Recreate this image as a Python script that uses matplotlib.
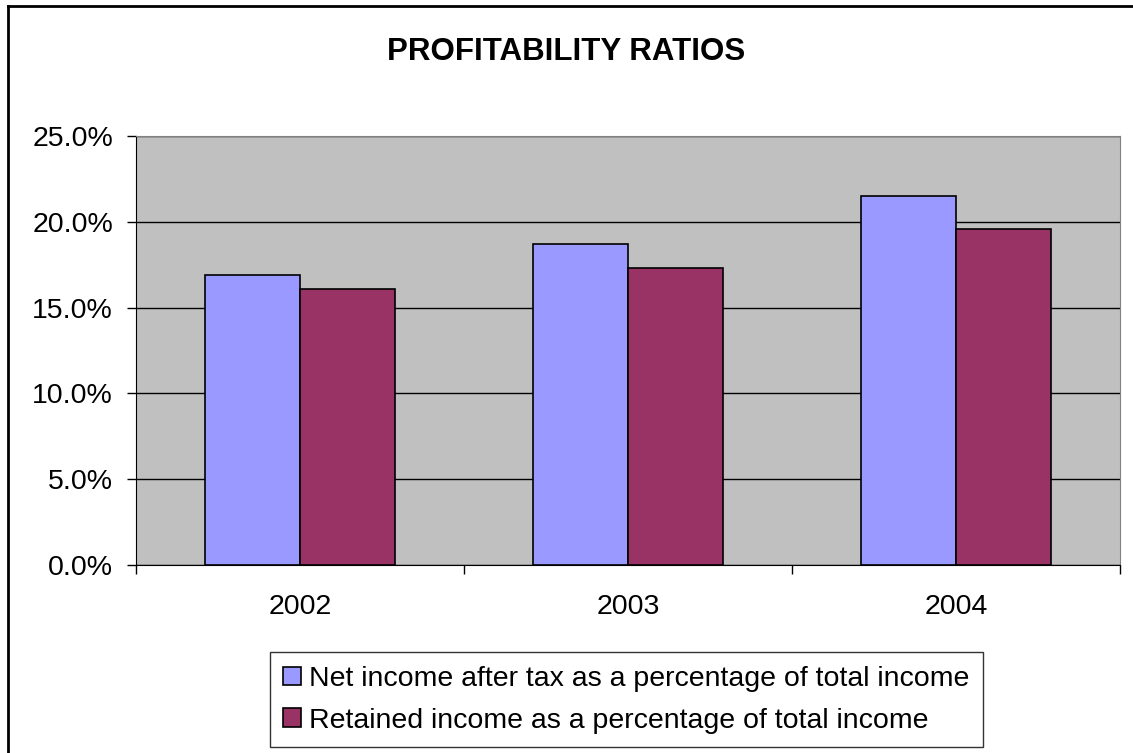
import numpy as np
import matplotlib.pyplot as plt
from matplotlib.lines import Line2D
from matplotlib.ticker import FuncFormatter

plt.rcParams['font.family'] = ['Liberation Sans', 'DejaVu Sans']

# data
years = ['2002', '2003', '2004']
net_income = [16.9, 18.7, 21.5]
retained = [16.1, 17.3, 19.6]
labels = ['Net income after tax as a percentage of total income',
          'Retained income as a percentage of total income']

fig = plt.figure(figsize=(11.33, 7.53), dpi=100)
ax = fig.add_axes([0.120, 0.2497, 0.8685, 0.5697])
ax.set_facecolor('#C0C0C0')

x = np.arange(len(years))
w = 0.29
b1 = ax.bar(x - w / 2, net_income, w, color='#9999FF', edgecolor='black', linewidth=1.2, zorder=3)
b2 = ax.bar(x + w / 2, retained, w, color='#993366', edgecolor='black', linewidth=1.2, zorder=3)

ax.set_ylim(0, 25)
ax.set_xlim(-0.5, 2.5)
ax.set_yticks(np.arange(0, 25.1, 5))
ax.yaxis.set_major_formatter(FuncFormatter(lambda v, p: '%.1f%%' % v))
ax.grid(axis='y', color='black', linewidth=1, zorder=1)
ax.tick_params(axis='y', labelsize=20.5, length=6.5, width=1, pad=10)

ax.set_xticks(x)
ax.set_xticklabels(years)
ax.set_xticks(np.arange(-0.5, 3, 1), minor=True)
ax.tick_params(axis='x', which='major', length=0, labelsize=20.5, pad=21)
ax.tick_params(axis='x', which='minor', length=6.5, width=1)

for s in ['top', 'right']:
    ax.spines[s].set_color('#808080')
ax.spines['left'].set_color('black')
ax.spines['bottom'].set_color('black')

fig.text(0.5, 1 - 52 / 753, 'PROFITABILITY RATIOS', ha='center', va='center',
         fontsize=22.5, fontweight='bold')

leg = ax.legend([b1, b2], labels, loc='upper center', bbox_to_anchor=(0.4985, -0.2035),
                fontsize=20.5, frameon=True, fancybox=False, edgecolor='black',
                handlelength=0.62, handleheight=0.62, handletextpad=0.3,
                borderpad=0.48, labelspacing=0.55, borderaxespad=0)
leg.get_frame().set_linewidth(1)

# outer chart frame (left and top edges visible)
fig.add_artist(Line2D([8 / 1133, 8 / 1133], [0, 1 - 6 / 753], color='black', linewidth=2))
fig.add_artist(Line2D([8 / 1133, 1], [1 - 6 / 753, 1 - 6 / 753], color='black', linewidth=2))

fig.savefig('out.png', dpi=100)
